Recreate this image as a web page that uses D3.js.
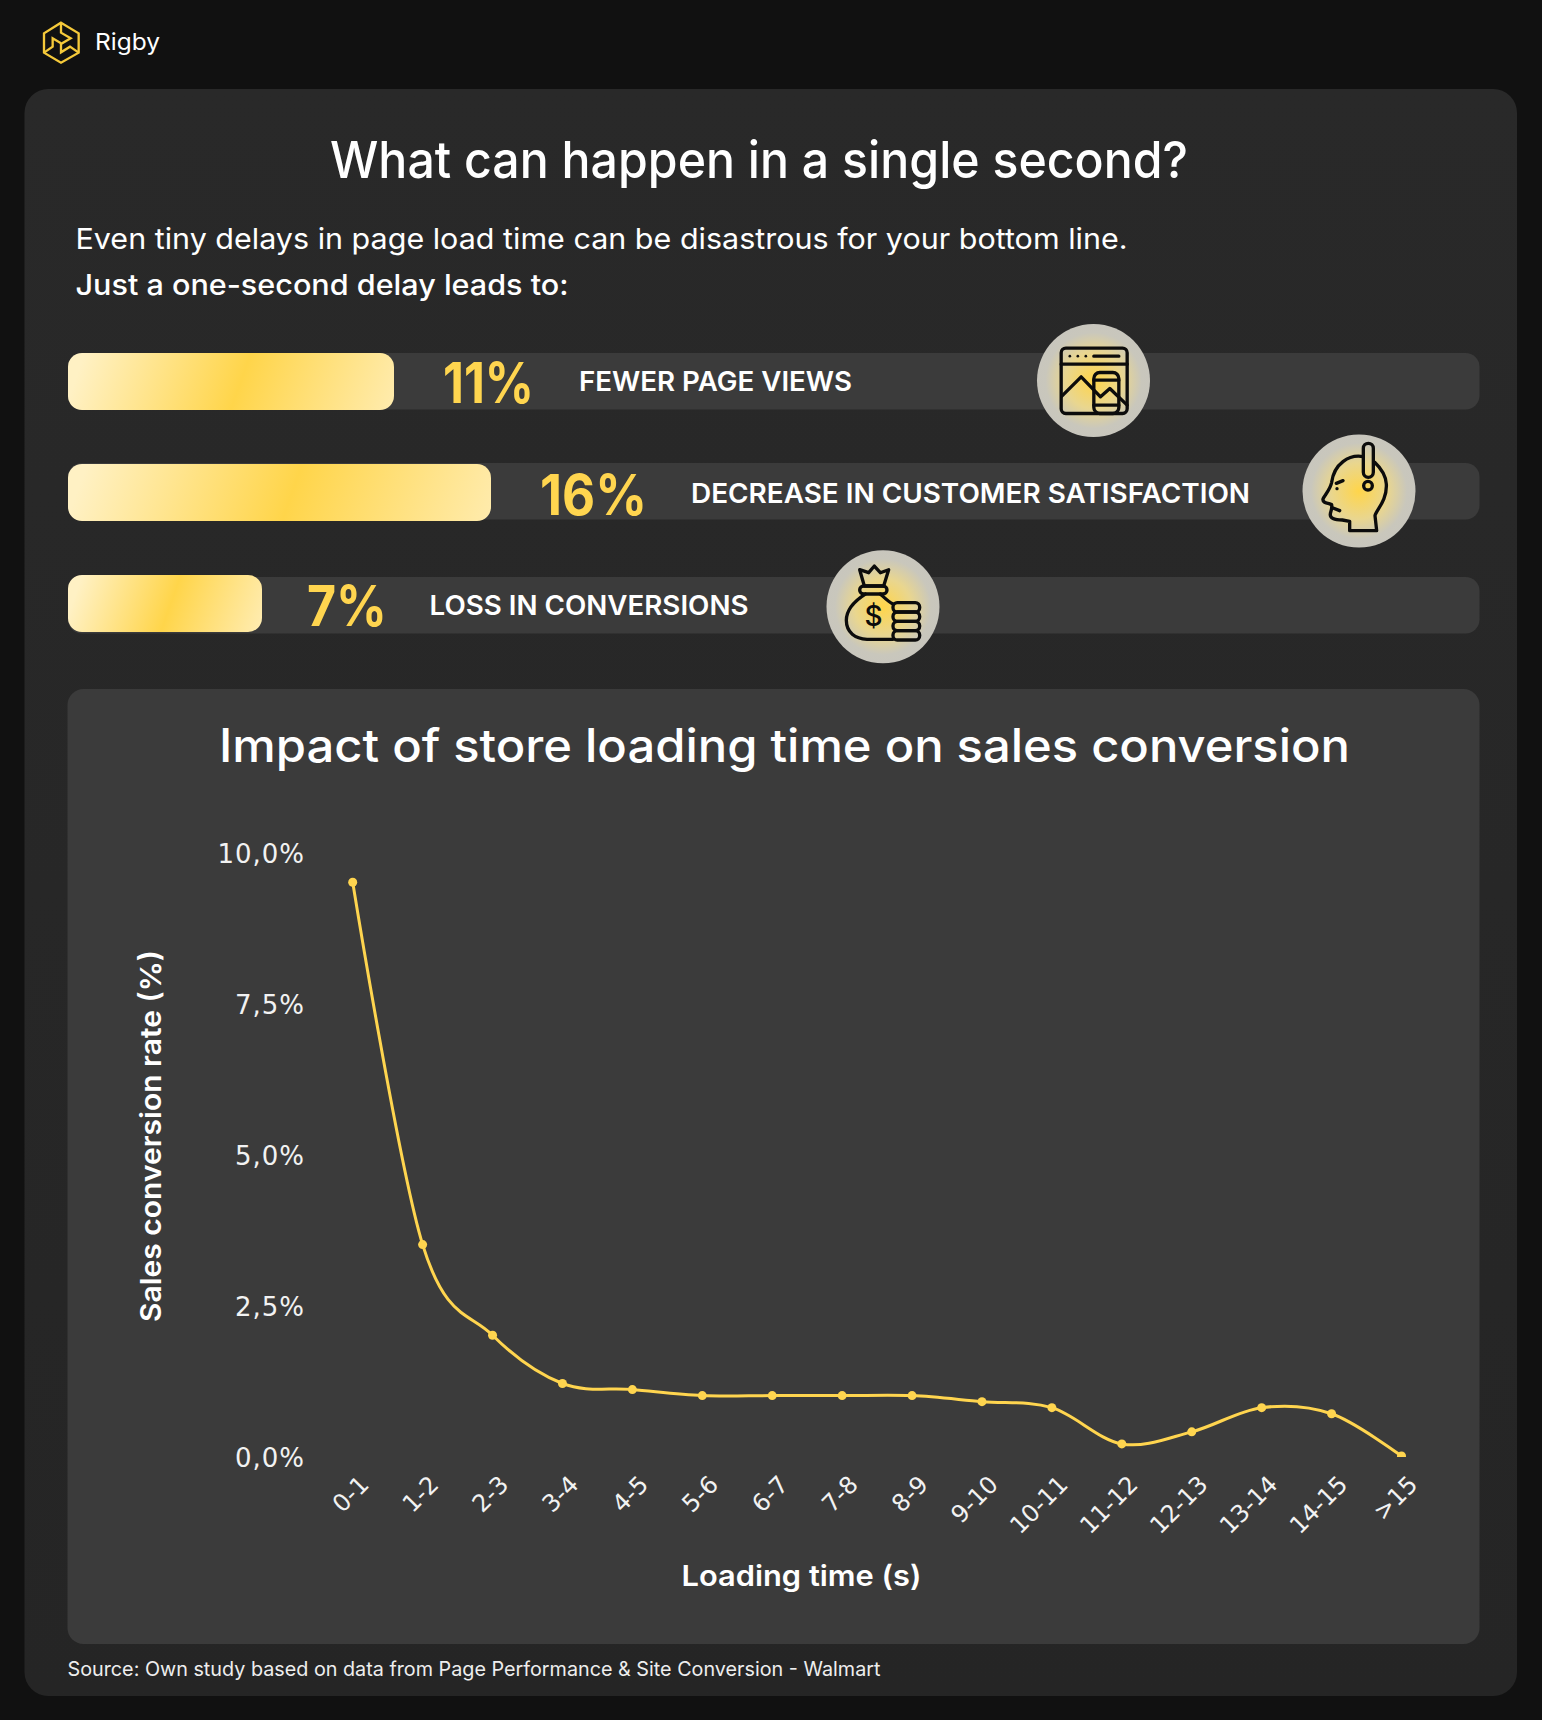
<!DOCTYPE html>
<html><head><meta charset="utf-8">
<script src="https://cdn.jsdelivr.net/npm/d3@7"></script>
<style>html,body{margin:0;padding:0;background:#111}svg{display:block}</style>
</head><body><div id="chart"></div>
<script>
// ---- data ----
const barValues = [11, 16, 7];
const barLabels = ["11%", "16%", "7%"];
const barCaptions = ["FEWER PAGE VIEWS", "DECREASE IN CUSTOMER SATISFACTION", "LOSS IN CONVERSIONS"];
const loadingTimes = ["0-1","1-2","2-3","3-4","4-5","5-6","6-7","7-8","8-9","9-10","10-11","11-12","12-13","13-14","14-15",">15"];
const conversionRates = [9.5,3.5,2.0,1.2,1.1,1.0,1.0,1.0,1.0,0.9,0.8,0.2,0.4,0.8,0.7,0.0];
const yTickValues = [0,2.5,5,7.5,10];

// ---- layout ----
const W = 1542, H = 1720, GOLD = "#ffd54f", FONT = "Inter, sans-serif", TICKFONT = "'DejaVu Sans', sans-serif";
const svg = d3.select("#chart").append("svg").attr("width", W).attr("height", H).attr("viewBox", `0 0 ${W} ${H}`);
const defs = svg.append("defs");

function txt(parent, s, x, y, size, weight, fill, len, anchor) {
  const t = parent.append("text").attr("x", x).attr("y", y).attr("font-family", FONT)
    .attr("font-size", size).attr("font-weight", weight).attr("fill", fill).text(s);
  if (len) t.attr("textLength", len).attr("lengthAdjust", "spacingAndGlyphs");
  if (anchor) t.attr("text-anchor", anchor);
  return t;
}

svg.append("rect").attr("width", W).attr("height", H).attr("fill", "#111111");
const cardGrad = defs.append("linearGradient").attr("id","cardGrad").attr("x1",0).attr("y1",0).attr("x2",0).attr("y2",1);
cardGrad.append("stop").attr("offset",0).attr("stop-color","#292929");
cardGrad.append("stop").attr("offset",1).attr("stop-color","#252525");
svg.append("rect").attr("x",24.5).attr("y",89).attr("width",1492.5).attr("height",1607).attr("rx",24).attr("fill","url(#cardGrad)");

// logo
const logo = svg.append("g").attr("transform","translate(30,10) scale(0.3333)").attr("fill","none").attr("stroke","#f5c93a").attr("stroke-width",7).attr("stroke-linejoin","miter");
logo.append("path").attr("d","M93,38 L146,70 L146,128 L93,158 L42,128 L42,70 Z");
logo.append("path").attr("d","M93,38 L93,68 L122,85 L93,102 L93,127 L120,110 L146,128");
logo.append("path").attr("d","M42,128 L68,110 L68,85 L93,100");
txt(svg,"Rigby",95,50,23,400,"#ffffff",65);

// heading
txt(svg,"What can happen in a single second?",330,178,51,500,"#ffffff",858);
txt(svg,"Even tiny delays in page load time can be disastrous for your bottom line.",75.5,249,29,400,"#ffffff",1052);
txt(svg,"Just a one-second delay leads to:",75.5,295,29,500,"#ffffff",493);

// bars: lengths in the reference are not strictly proportional, so the scale is piecewise
const barX = d3.scaleLinear().domain([0,7,11,16]).range([68,262,394,491]);
const trackTop = [353,463,577], barTop = [353,464,575], barH = 57;
const pctX = [443,540,307], pctLen = [91,107,80], pctBase = [403,515,626];
const capX = [579,691,429.5], capLen = [273,559,319], capBase = [391,503,615];
const circleC = [[1093.5,380.5],[1359,491],[883,606.7]];

barValues.forEach((v,i)=>{
  svg.append("rect").attr("x",68).attr("y",trackTop[i]).attr("width",1411.5).attr("height",barH-0.5).attr("rx",14).attr("fill","#3b3b3b");
  const x0 = barX(0), w = barX(v)-x0, cx = x0+w*0.53, cy = barTop[i]+barH/2, a = Math.atan2(20,57), h = w/2*Math.cos(a)*1.02;
  const g = defs.append("linearGradient").attr("id","bar"+i).attr("gradientUnits","userSpaceOnUse")
    .attr("x1",cx-h*Math.cos(a)).attr("y1",cy-h*Math.sin(a)).attr("x2",cx+h*Math.cos(a)).attr("y2",cy+h*Math.sin(a));
  g.append("stop").attr("offset",0).attr("stop-color","#fff1c4");
  g.append("stop").attr("offset",0.5).attr("stop-color","#ffd54a");
  g.append("stop").attr("offset",1).attr("stop-color","#ffecb0");
  svg.append("rect").attr("x",x0).attr("y",barTop[i]).attr("width",w).attr("height",barH).attr("rx",14).attr("fill",`url(#bar${i})`);
  txt(svg,barLabels[i],pctX[i],pctBase[i],56,700,GOLD,pctLen[i]);
  txt(svg,barCaptions[i],capX[i],capBase[i],27,600,"#ffffff",capLen[i]);
});

// icons
const rg = defs.append("radialGradient").attr("id","disc");
rg.append("stop").attr("offset",0).attr("stop-color","#ffd54a");
rg.append("stop").attr("offset",0.5).attr("stop-color","#e9d68f");
rg.append("stop").attr("offset",0.85).attr("stop-color","#c9c7bc");
rg.append("stop").attr("offset",1).attr("stop-color","#c8c6bd");
circleC.forEach(c=>svg.append("circle").attr("cx",c[0]).attr("cy",c[1]).attr("r",56.5).attr("fill","url(#disc)"));
function icon(c, ox, oy){
  return svg.append("g").attr("transform",`translate(${c[0]},${c[1]}) scale(0.3333) translate(${-ox},${-oy})`)
    .attr("fill","none").attr("stroke","#0c0c0c").attr("stroke-width",10).attr("stroke-linejoin","round").attr("stroke-linecap","round");
}
const i1 = icon(circleC[0],189,181);
i1.append("rect").attr("x",92).attr("y",84).attr("width",198).attr("height",196).attr("rx",14);
i1.append("path").attr("d","M92,132 H290 M190,108 H265 M94,228 L152,170 L210,230 L238,205 L290,255 M190,180 H265 M190,255 H265");
i1.append("rect").attr("x",190).attr("y",157).attr("width",75).attr("height",123).attr("rx",18);
[118,142,166].forEach(x=>i1.append("circle").attr("cx",x).attr("cy",108).attr("r",4).attr("fill","#0c0c0c").attr("stroke","none"));

const i2 = icon(circleC[1],190,181);
i2.append("path").attr("d","M162,300 H243 L238,255 C240,240 275,210 272,160 C270,130 255,112 237,95 M203,78 C160,70 115,100 108,155 C104,178 85,195 82,205 C80,215 90,217 100,219 L108,222 C110,235 104,245 104,250 C102,262 115,268 140,268 L162,272 L162,300");
i2.append("rect").attr("x",203).attr("y",38).attr("width",30).attr("height",102).attr("rx",15);
i2.append("circle").attr("cx",217).attr("cy",165).attr("r",13);
i2.append("path").attr("d","M122,158 L142,150 M112,232 L132,240");
i2.append("circle").attr("cx",124).attr("cy",174).attr("r",5).attr("fill","#0c0c0c").attr("stroke","none");

const i3 = icon(circleC[2],188,184);
i3.append("path").attr("d","M118,73 L145,82 L162,62 L180,82 L205,73 L190,122 H132 Z");
i3.append("rect").attr("x",118).attr("y",122).attr("width",82).attr("height",24).attr("rx",12);
i3.append("path").attr("d","M135,146 C105,165 78,190 78,225 C78,262 105,280 140,282 H218 M180,146 C190,155 205,170 218,176");
[172,200,228,256].forEach(y=>i3.append("rect").attr("x",218).attr("y",y).attr("width",80).attr("height",28).attr("rx",13));
i3.append("text").attr("x",160).attr("y",243).attr("text-anchor","middle").attr("font-family",FONT).attr("font-size",84).attr("font-weight",500).attr("fill","#0c0c0c").attr("stroke","none").text("$");

// chart panel
svg.append("rect").attr("x",67.5).attr("y",689).attr("width",1412).attr("height",955).attr("rx",16).attr("fill","#3b3b3b");
txt(svg,"Impact of store loading time on sales conversion",219,761.5,46,500,"#ffffff",1131);

const x = d3.scalePoint().domain(loadingTimes).range([352.7,1401.5]);
const y = d3.scaleLinear().domain([0,10]).range([1456,852]);

const yAxis = svg.append("g").attr("transform","translate(305,1.5)")
  .call(d3.axisLeft(y).tickValues(yTickValues).tickSize(0).tickPadding(0).tickFormat(d=>d3.format(".1f")(d).replace(".",",")+"%"));
yAxis.select(".domain").remove();
yAxis.selectAll("text").attr("font-family",TICKFONT).attr("font-size",26).attr("fill","#f2f2f2").attr("letter-spacing",1).attr("dy","0.35em");

const xAxis = svg.append("g").attr("transform","translate(0,1456)")
  .call(d3.axisBottom(x).tickSize(0).tickPadding(0));
xAxis.select(".domain").remove();
xAxis.selectAll("text").attr("font-family",TICKFONT).attr("font-size",24).attr("fill","#f2f2f2")
  .attr("text-anchor","end").attr("dy",0).attr("y",0)
  .attr("transform","translate(17,30) rotate(-45)");

svg.append("text").attr("transform","translate(160.5,1136) rotate(-90)").attr("text-anchor","middle")
  .attr("font-family",FONT).attr("font-size",29).attr("font-weight",600).attr("fill","#ffffff")
  .attr("textLength",372).attr("lengthAdjust","spacingAndGlyphs").text("Sales conversion rate (%)");
txt(svg,"Loading time (s)",681.5,1586,29,600,"#ffffff",240);

defs.append("clipPath").attr("id","plotClip").append("rect").attr("x",300).attr("y",840).attr("width",1160).attr("height",617);
const plot = svg.append("g").attr("clip-path","url(#plotClip)");
const line = d3.line().x((d,i)=>x(loadingTimes[i])).y(d=>y(d)).curve(d3.curveCatmullRom.alpha(0));
plot.append("path").datum(conversionRates).attr("d",line).attr("fill","none").attr("stroke",GOLD).attr("stroke-width",3);
plot.selectAll("circle").data(conversionRates).join("circle")
  .attr("cx",(d,i)=>x(loadingTimes[i])).attr("cy",d=>y(d)).attr("r",4.5).attr("fill",GOLD);

txt(svg,"Source: Own study based on data from Page Performance & Site Conversion - Walmart",67.5,1676,20,400,"#eeeeee",813);
</script></body></html>
